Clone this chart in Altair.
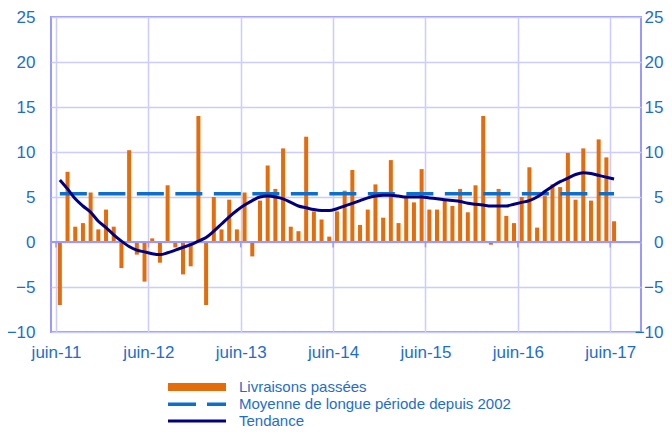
import json
import altair as alt
import pandas as pd

# ---- data -------------------------------------------------------------
tick_labels = ["juin-11", "juin-12", "juin-13", "juin-14", "juin-15", "juin-16", "juin-17"]

livraisons = [
    -7.0, 7.8, 1.7, 2.1, 5.5, 1.4, 3.6,                          # 2011 jun-dec
    1.7, -2.9, 10.2, -1.4, -4.4, 0.4, -2.3, 6.3, -0.6, -3.6, -2.7, 14.0,   # 2012
    -7.0, 5.0, 1.4, 4.7, 1.4, 5.5, -1.6, 4.6, 8.5, 5.9, 10.4, 1.7,         # 2013
    1.2, 11.7, 3.4, 2.5, 0.6, 3.4, 5.7, 8.0, 1.9, 3.6, 6.4, 2.7,           # 2014
    9.1, 2.1, 5.0, 4.4, 8.1, 3.6, 3.6, 4.7, 4.0, 5.9, 3.3, 6.3,            # 2015
    14.0, -0.3, 5.9, 2.9, 2.1, 5.0, 8.3, 1.6, 5.1, 6.4, 6.1, 9.9,          # 2016
    4.7, 10.4, 4.6, 11.4, 9.4, 2.3,                               # 2017 jan-jun
]

tendance = [
    6.9, 5.9, 4.8, 4.0, 3.3, 2.3, 1.6,
    0.8, 0.1, -0.5, -0.9, -1.1, -1.3, -1.4, -1.2, -0.9, -0.6, -0.3, 0.1,
    0.5, 1.2, 2.0, 2.8, 3.5, 4.1, 4.6, 5.0, 5.1, 5.0, 4.8, 4.4,
    4.0, 3.8, 3.6, 3.5, 3.5, 3.7, 4.0, 4.3, 4.6, 4.9, 5.1, 5.2,
    5.2, 5.1, 5.0, 5.0, 5.0, 4.9, 4.8, 4.7, 4.6, 4.5, 4.3, 4.2,
    4.1, 4.0, 4.0, 4.0, 4.2, 4.4, 4.6, 5.0, 5.6, 6.2, 6.7, 7.1,
    7.5, 7.7, 7.6, 7.4, 7.2, 7.0,
]

moyenne = 5.35

serie_bar = "Livraisons passées"
serie_moy = "Moyenne de longue période depuis 2002"
serie_tend = "Tendance"

# ---- styling ----------------------------------------------------------
ORANGE = "#E46C0A"
BLUE = "#0B6FCB"
NAVY = "#000080"
TEXT = "#1E6EC8"
GRID = "#CCCCFF"
FRAME = "#9999FF"
FONT = "Liberation Sans"

n = len(livraisons)
month_idx = list(range(n))
tick_vals = [12 * i for i in range(len(tick_labels))]

df = pd.DataFrame({
    "m": [i + 0.5 for i in month_idx],
    "liv": livraisons,
    "tend": tendance,
    "s1": serie_bar,
    "s3": serie_tend,
})
df_moy = pd.DataFrame({"x1": [0.5], "x2": [n - 0.5], "y": [moyenne], "s2": [serie_moy]})
df_zero = pd.DataFrame({"y": [0]})
df_ticks = pd.DataFrame({"x": tick_vals})

xscale = alt.Scale(domain=[0, 75.35], nice=False, zero=False)
yscale = alt.Scale(domain=[-10, 25], nice=False)

label_expr = json.dumps(tick_labels) + "[round(datum.value / 12)]"
xaxis = alt.Axis(
    values=tick_vals, labelExpr=label_expr, title=None, grid=True,
    gridColor=GRID, gridWidth=1.5, domain=False, ticks=False, tickSize=0,
    labelFont=FONT, labelFontSize=17, labelColor=TEXT, labelPadding=12,
    labelFlush=False, labelOverlap=False,
)
yvals = list(range(-10, 30, 5))
yaxis_left = alt.Axis(
    orient="left", values=yvals, title=None, grid=True, gridColor=GRID,
    gridWidth=1.5, domain=False, ticks=False, tickSize=0,
    labelFont=FONT, labelFontSize=17, labelColor=TEXT, labelPadding=16,
)
yaxis_right = alt.Axis(
    orient="right", values=yvals, title=None, grid=False, domain=False,
    ticks=False, tickSize=0, labelAlign="right",
    labelFont=FONT, labelFontSize=17, labelColor=TEXT, labelPadding=22,
)

def leg(x, y, off, **kw):
    return alt.Legend(
        orient="none", legendX=x, legendY=y, title=None, padding=0,
        labelFont=FONT, labelFontSize=15, labelColor=TEXT, labelOffset=off,
        labelLimit=500, symbolSize=3364, **kw,
    )

bars = alt.Chart(df).mark_bar(orient="vertical", size=4).encode(
    x=alt.X("m:Q", scale=xscale, axis=xaxis),
    y=alt.Y("liv:Q", scale=yscale, axis=yaxis_left),
    y2=alt.datum(0),
    color=alt.Color("s1:N", scale=alt.Scale(domain=[serie_bar], range=[ORANGE]),
                    legend=leg(117, 341, 13, symbolType="M-1,-0.14H1V0.14H-1Z",
                               symbolStrokeWidth=0, symbolOpacity=1)),
)

zero = alt.Chart(df_zero).mark_rule(color=FRAME, strokeWidth=2).encode(
    y=alt.Y("y:Q", scale=yscale, axis=None),
)

ticks = alt.Chart(df_ticks).mark_rule(color=FRAME, strokeWidth=1.5).encode(
    x=alt.X("x:Q", scale=xscale, axis=xaxis),
    y=alt.Y(datum=0, scale=yscale, axis=None),
    y2=alt.datum(-0.6),
)

mean_line = alt.Chart(df_moy).mark_rule(strokeWidth=3.5, strokeDash=[27, 11.5]).encode(
    x=alt.X("x1:Q", scale=xscale, axis=xaxis),
    x2="x2:Q",
    y=alt.Y("y:Q", scale=yscale, axis=None),
    color=alt.Color("s2:N", scale=alt.Scale(domain=[serie_moy], range=[BLUE]),
                    legend=leg(115, 356.25, 11, symbolType="stroke", symbolStrokeWidth=3.5,
                               symbolDash=[28, 11])),
)

trend = alt.Chart(df).mark_line(strokeWidth=3, interpolate="monotone").encode(
    x=alt.X("m:Q", scale=xscale, axis=xaxis),
    y=alt.Y("tend:Q", scale=yscale, axis=yaxis_right),
    color=alt.Color("s3:N", scale=alt.Scale(domain=[serie_tend], range=[NAVY]),
                    legend=leg(115.5, 373.5, 11.5, symbolType="stroke", symbolStrokeWidth=3)),
)

chart = alt.layer(bars, zero, ticks, mean_line, trend).resolve_scale(
    color="independent", y="shared"
).resolve_axis(y="independent").properties(
    width=590, height=315,
    autosize=alt.AutoSizeParams(type="none"),
    padding={"left": 43, "top": 9, "right": 23, "bottom": 101},
).configure_view(stroke=FRAME, strokeWidth=2)

chart.save("out.html", embed_options={"renderer": "svg", "actions": False})
